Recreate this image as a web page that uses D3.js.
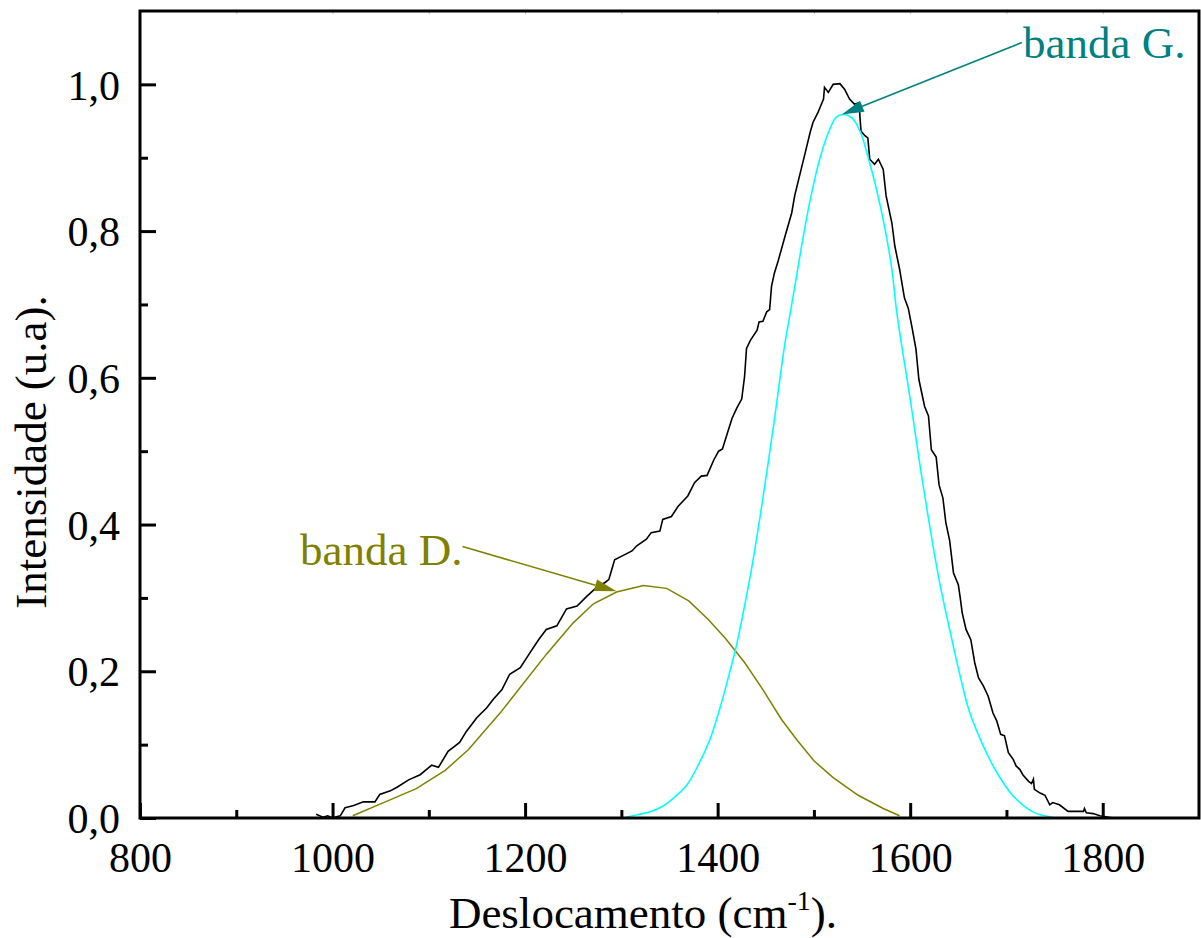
<!DOCTYPE html>
<html lang="pt">
  <head>
    <meta charset="UTF-8" />
    <title>Raman – bandas D e G</title>
    <script src="https://d3js.org/d3.v7.min.js"></script>
    <style>
      body {
        margin: 0;
        background: #fff;
      }
      svg text {
        font-family: 'Liberation Serif', 'Times New Roman', serif;
      }
    </style>
  </head>
  <body>
    <div id="chart"></div>
    <script>
      // measured spectrum (black), [shift cm-1, intensity]
      const spectrum = [
        [983, 0.005], [990, 0.001], [995, 0.003], [1000, 0.0], [1005, 0.002], [1008, 0.003],
        [1013, 0.014], [1022, 0.017], [1032, 0.022], [1044, 0.022], [1049, 0.032], [1060, 0.037],
        [1067, 0.042], [1079, 0.052], [1091, 0.059], [1103, 0.072], [1110, 0.069], [1120, 0.091],
        [1132, 0.103], [1139, 0.118], [1150, 0.137], [1160, 0.15], [1167, 0.162], [1176, 0.175],
        [1184, 0.196], [1195, 0.205], [1205, 0.225], [1214, 0.243], [1222, 0.257], [1233, 0.262],
        [1243, 0.285], [1254, 0.289], [1264, 0.302], [1274, 0.314], [1283, 0.321], [1287, 0.325],
        [1293, 0.352], [1302, 0.358], [1311, 0.364], [1316, 0.371], [1326, 0.38], [1331, 0.389],
        [1340, 0.391], [1343, 0.407], [1352, 0.411], [1359, 0.425], [1369, 0.439], [1376, 0.457],
        [1383, 0.466], [1389, 0.467], [1396, 0.488], [1401, 0.5], [1405, 0.503], [1410, 0.524],
        [1415, 0.545], [1420, 0.559], [1425, 0.571], [1428, 0.602], [1430, 0.64], [1434, 0.651],
        [1441, 0.665], [1443, 0.676], [1447, 0.677], [1451, 0.69], [1454, 0.693], [1456, 0.725],
        [1459, 0.743], [1463, 0.76], [1470, 0.793], [1477, 0.825], [1480, 0.848], [1485, 0.875],
        [1491, 0.907], [1496, 0.934], [1499, 0.948], [1504, 0.961], [1510, 0.98], [1511, 0.996],
        [1515, 0.989], [1520, 1.0], [1527, 1.001], [1532, 0.993], [1537, 0.98], [1542, 0.973],
        [1547, 0.975], [1548, 0.952], [1549, 0.936], [1553, 0.93], [1556, 0.927], [1558, 0.898],
        [1563, 0.891], [1567, 0.898], [1572, 0.884], [1575, 0.848], [1581, 0.811], [1584, 0.78],
        [1589, 0.748], [1594, 0.709], [1598, 0.695], [1602, 0.668], [1606, 0.639], [1609, 0.598],
        [1615, 0.561], [1619, 0.548], [1622, 0.502], [1627, 0.492], [1630, 0.454], [1634, 0.436],
        [1637, 0.403], [1641, 0.378], [1645, 0.334], [1650, 0.318], [1652, 0.3], [1654, 0.28],
        [1658, 0.257], [1663, 0.243], [1667, 0.212], [1671, 0.191], [1676, 0.18], [1681, 0.166],
        [1686, 0.143], [1690, 0.132], [1694, 0.114], [1698, 0.112], [1702, 0.089], [1707, 0.08],
        [1710, 0.071], [1714, 0.066], [1717, 0.059], [1723, 0.05], [1726, 0.047], [1728, 0.053],
        [1729, 0.039], [1735, 0.034], [1740, 0.031], [1745, 0.018], [1748, 0.021], [1755, 0.018],
        [1764, 0.009], [1773, 0.009], [1780, 0.009], [1781, 0.013], [1783, 0.007], [1790, 0.006],
        [1797, 0.003], [1811, 0.0], [1818, 0.0]
      ];

      // fitted D band (olive), coarse polyline
      const bandD = [
        [1021, 0.003], [1053, 0.021], [1087, 0.04], [1117, 0.065], [1141, 0.093], [1174, 0.143],
        [1222, 0.223], [1250, 0.266], [1271, 0.292], [1295, 0.308], [1323, 0.317], [1347, 0.313],
        [1370, 0.296], [1390, 0.271], [1408, 0.245], [1428, 0.212], [1447, 0.175], [1466, 0.135],
        [1482, 0.107], [1500, 0.078], [1520, 0.055], [1546, 0.031], [1572, 0.013], [1589, 0.003]
      ];

      // fitted G band (cyan)
      const bandG = [
        [1305, 0.001], [1319, 0.005], [1331, 0.009], [1343, 0.016], [1355, 0.028], [1368, 0.045],
        [1381, 0.075], [1392, 0.107], [1402, 0.148], [1413, 0.201], [1419, 0.232], [1426, 0.276],
        [1435, 0.338], [1444, 0.41], [1458, 0.534], [1470, 0.648], [1475, 0.685], [1482, 0.739],
        [1489, 0.793], [1497, 0.848], [1506, 0.898], [1515, 0.934], [1523, 0.955], [1530, 0.959],
        [1539, 0.955], [1548, 0.936], [1556, 0.902], [1565, 0.857], [1574, 0.802], [1581, 0.748],
        [1586, 0.69], [1600, 0.571], [1613, 0.457], [1630, 0.325], [1641, 0.257], [1652, 0.193],
        [1662, 0.143], [1676, 0.098], [1690, 0.062], [1707, 0.03], [1728, 0.008], [1748, 0.001]
      ];

      const xMajor = [800, 1000, 1200, 1400, 1600, 1800];
      const xMinor = [900, 1100, 1300, 1500, 1700];
      const yMajor = [0, 0.2, 0.4, 0.6, 0.8, 1.0];
      const yMinor = [0.1, 0.3, 0.5, 0.7, 0.9];

      const labelG = { text: 'banda G.', from: [1716, 1.057], tip: [1529, 0.959] };
      const labelD = { text: 'banda D.', from: [1135, 0.37], tip: [1295, 0.309] };

      const width = 1201,
        height = 938;
      const margin = { left: 140, right: 2, top: 11, bottom: 120 };

      const svg = d3
        .select('#chart')
        .append('svg')
        .attr('width', width)
        .attr('height', height);

      const x = d3
        .scaleLinear()
        .domain([800, 1900])
        .range([margin.left, width - margin.right]);
      const y = d3
        .scaleLinear()
        .domain([0, 1.1])
        .range([height - margin.bottom, margin.top]);

      const fmt = (v) => d3.format('.1f')(v).replace('.', ',');

      // curves
      const line = d3
        .line()
        .x((d) => x(d[0]))
        .y((d) => y(d[1]));

      svg.append('path').datum(spectrum).attr('d', line)
        .attr('fill', 'none').attr('stroke', '#000').attr('stroke-width', 1.6);
      svg.append('path').datum(bandD).attr('d', line)
        .attr('fill', 'none').attr('stroke', '#808000').attr('stroke-width', 1.5);
      svg.append('path').datum(bandG).attr('d', line.curve(d3.curveCatmullRom))
        .attr('fill', 'none').attr('stroke', '#00ffff').attr('stroke-width', 1.6);

      // axes, ticks inside
      const bottomAxis = svg.append('g').attr('transform', `translate(0,${y(0)})`);
      bottomAxis.call(d3.axisBottom(x).tickValues(xMajor).tickSize(-15).tickPadding(24).tickFormat(d3.format('d')));
      const bottomMinor = svg.append('g').attr('transform', `translate(0,${y(0)})`);
      bottomMinor.call(d3.axisBottom(x).tickValues(xMinor).tickSize(-8).tickFormat(''));

      const leftAxis = svg.append('g').attr('transform', `translate(${x(800)},0)`);
      leftAxis.call(d3.axisLeft(y).tickValues(yMajor).tickSize(-16).tickPadding(20).tickFormat(fmt));
      const leftMinor = svg.append('g').attr('transform', `translate(${x(800)},0)`);
      leftMinor.call(d3.axisLeft(y).tickValues(yMinor).tickSize(-8).tickFormat(''));

      // faint top ticks
      const topAxis = svg.append('g').attr('transform', `translate(0,${y(1.1)})`);
      topAxis.call(d3.axisTop(x).tickValues(d3.range(900, 1900, 100)).tickSize(-3).tickFormat(''));
      topAxis.selectAll('line').attr('stroke', '#bbb').attr('stroke-width', 1);
      topAxis.select('.domain').remove();

      [bottomAxis, bottomMinor, leftAxis, leftMinor].forEach((g) => {
        g.select('.domain').remove();
        g.selectAll('line').attr('stroke', '#000').attr('stroke-width', 3);
        g.selectAll('text').attr('font-size', 42).attr('fill', '#000')
          .attr('font-family', "'Liberation Serif', serif");
      });
      leftAxis.selectAll('text').attr('dy', '0.35em');
      bottomAxis.selectAll('text').attr('dy', '0.72em');

      // frame
      svg.append('rect')
        .attr('x', x(800)).attr('y', y(1.1))
        .attr('width', x(1900) - x(800)).attr('height', y(0) - y(1.1))
        .attr('fill', 'none').attr('stroke', '#000').attr('stroke-width', 3);

      // axis titles
      const xt = svg.append('text')
        .attr('x', 643).attr('y', 928)
        .attr('text-anchor', 'middle').attr('font-size', 45);
      xt.append('tspan').text('Deslocamento (cm');
      xt.append('tspan').attr('dy', -18).attr('font-size', 28).text('-1');
      xt.append('tspan').attr('dy', 18).text(').');

      svg.append('text')
        .attr('transform', 'translate(46,452) rotate(-90)')
        .attr('text-anchor', 'middle').attr('font-size', 45)
        .text('Intensidade (u.a).');

      // annotations
      function annotate(a, color, tx, ty) {
        const x0 = x(a.from[0]), y0 = y(a.from[1]);
        const x1 = x(a.tip[0]), y1 = y(a.tip[1]);
        const ang = Math.atan2(y1 - y0, x1 - x0);
        const len = 22, half = 6;
        const bx = x1 - len * Math.cos(ang), by = y1 - len * Math.sin(ang);
        svg.append('line')
          .attr('x1', x0).attr('y1', y0).attr('x2', bx).attr('y2', by)
          .attr('stroke', color).attr('stroke-width', 1.5);
        const p = [
          [x1, y1],
          [bx + half * Math.sin(ang), by - half * Math.cos(ang)],
          [bx - half * Math.sin(ang), by + half * Math.cos(ang)]
        ];
        svg.append('path').attr('d', 'M' + p.join('L') + 'Z').attr('fill', color);
        svg.append('text').attr('x', tx).attr('y', ty)
          .attr('font-size', 45).attr('fill', color).text(a.text);
      }
      annotate(labelG, '#008080', 1023, 58);
      annotate(labelD, '#808000', 300, 565);
    </script>
  </body>
</html>
